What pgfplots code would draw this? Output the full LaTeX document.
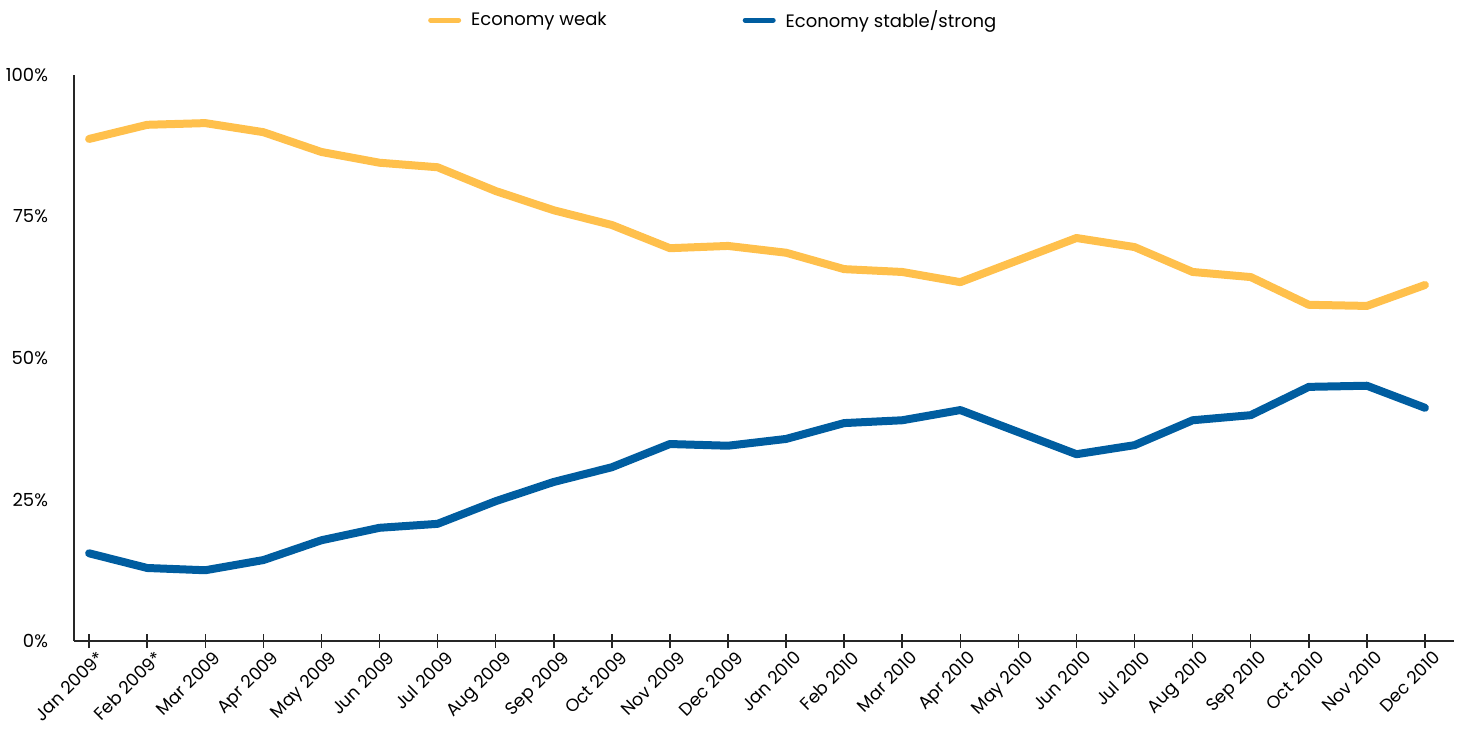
\documentclass[border=0pt]{standalone}
\usepackage{pgfplots}
\pgfplotsset{compat=1.18}
\usepackage{fontspec}
\setmainfont{Poppins}
\definecolor{weak}{HTML}{FFC04C}
\definecolor{strong}{HTML}{005DA0}
\begin{document}
\begin{tikzpicture}
\useasboundingbox (0,0) rectangle (730.5pt,364.5pt);
\begin{axis}[
  at={(37pt,44pt)}, anchor=south west,
  scale only axis, width=690pt, height=283pt,
  xmin=-0.26, xmax=23.5, ymin=0, ymax=100,
  axis lines*=left,
  axis line style={line width=0.75pt, draw=black!85, -},
  xtick={0,...,23},
  xticklabels={Jan 2009*,Feb 2009*,Mar 2009,Apr 2009,May 2009,Jun 2009,Jul 2009,Aug 2009,Sep 2009,Oct 2009,Nov 2009,Dec 2009,Jan 2010,Feb 2010,Mar 2010,Apr 2010,May 2010,Jun 2010,Jul 2010,Aug 2010,Sep 2010,Oct 2010,Nov 2010,Dec 2010},
  x tick label style={rotate=45, anchor=north east, font=\fontsize{8.8}{10}\selectfont, inner sep=1pt, yshift=-2pt, xshift=3pt},
  xtick style={line width=0.75pt, draw=black!85},
  major tick length=7pt,
  tick align=center,
  ytick={0,25,50,75,100},
  yticklabels={0\%,25\%,50\%,75\%,100\%},
  y tick label style={font=\fontsize{9}{10}\selectfont, xshift=-6pt},
  ytick style={draw=none},
  legend columns=2,
  legend style={draw=none, at={(0.252,1.097)}, anchor=west, font=\fontsize{9}{10}\selectfont,
    /tikz/every odd column/.append style={column sep=3pt},
    /tikz/every even column/.append style={column sep=66pt}},
  legend image code/.code={\draw[line width=2.5pt,#1] (0pt,0pt) -- (14pt,0pt);},
]
\addplot[weak, line width=4pt, line join=round, line cap=round] coordinates {
(0,88.7)(1,91.2)(2,91.5)(3,89.9)(4,86.4)(5,84.5)(6,83.7)(7,79.5)(8,76.1)(9,73.5)(10,69.4)(11,69.8)
(12,68.6)(13,65.7)(14,65.2)(15,63.4)(16,67.3)(17,71.2)(18,69.6)(19,65.2)(20,64.3)(21,59.4)(22,59.2)(23,62.9)};
\addlegendentry{Economy weak}
\addplot[strong, line width=4pt, line join=round, line cap=round] coordinates {
(0,15.5)(1,12.9)(2,12.5)(3,14.3)(4,17.8)(5,20.0)(6,20.7)(7,24.7)(8,28.1)(9,30.7)(10,34.8)(11,34.5)
(12,35.7)(13,38.5)(14,39.0)(15,40.8)(16,36.9)(17,33.0)(18,34.6)(19,39.0)(20,39.9)(21,44.9)(22,45.1)(23,41.2)};
\addlegendentry{Economy stable/strong}
\end{axis}
\end{tikzpicture}
\end{document}
